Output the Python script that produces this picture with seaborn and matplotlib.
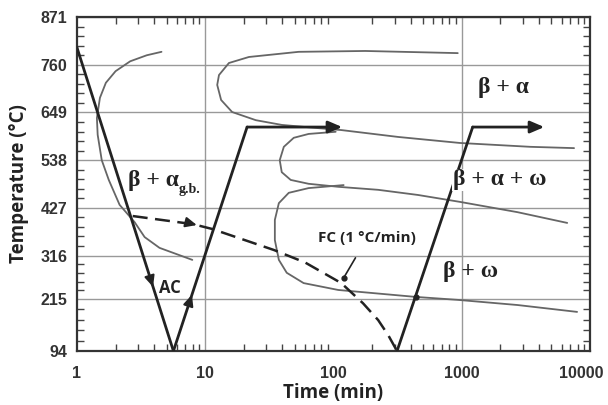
import numpy as np
import matplotlib
matplotlib.use("Agg")
import matplotlib.pyplot as plt
import matplotlib.transforms as mtransforms
from matplotlib.ticker import FixedLocator, LogLocator, NullFormatter
import seaborn as sns

# temperature tick labels (deg C)
temp_ticks = [94, 215, 316, 427, 538, 649, 760, 871]
time_ticks = [1, 10, 100, 1000, 10000]

# processing path (black lines)
ac_time = [1.0, 5.65]
ac_temp = [800, 94]
heat1_time = [5.65, 21.2, 117]
heat1_temp = [94, 615, 615]
heat2_time = [313, 1217, 4400]
heat2_temp = [94, 615, 615]
fc_time = [2.72, 8.07, 11.3, 34.3, 60, 115, 170, 223, 267, 313]
fc_temp = [408, 389, 378, 329, 300, 252, 205, 166, 131, 94]

# TTT C-curves (gray)
gb_time = [4.56, 3.5, 2.6, 2.0, 1.68, 1.51, 1.43, 1.45, 1.56, 1.77, 2.15, 2.81, 3.37, 4.40, 7.93]
gb_temp = [790, 782, 768, 745, 718, 683, 636, 597, 538, 492, 434, 394, 359, 334, 306]
alpha_time = [931, 177, 53.5, 21.9, 15.3, 12.8, 12.4, 13.3, 16.2, 24.8, 39.5, 72.5, 115, 319, 965, 3430, 7510]
alpha_temp = [787, 792, 790, 778, 764, 736, 713, 678, 650, 631, 620, 613, 608, 592, 578, 569, 566]
mid_time = [104, 64, 49, 41, 38.1, 39.5, 46.4, 64, 109, 223, 456, 965, 2720, 6640]
mid_temp = [604, 599, 590, 569, 538, 510, 492, 483, 476, 469, 457, 441, 417, 392]
omega_time = [120, 64, 44.8, 37.5, 34.9, 34.9, 37.5, 43.2, 58.5, 109, 432, 931, 2720, 7930]
omega_temp = [480, 473, 462, 438, 399, 352, 306, 276, 252, 236, 220, 213, 201, 185]

sns.set_theme(style="ticks")

fig = plt.figure(figsize=(6.08, 4.05), dpi=100)
ax = fig.add_axes([0.1266, 0.1333, 0.8438, 0.8247])

dark = "#222222"
gray = "#666666"

# C-curves
for t, T in [(gb_time, gb_temp), (alpha_time, alpha_temp),
             (mid_time, mid_temp), (omega_time, omega_temp)]:
    sns.lineplot(x=t, y=T, sort=False, estimator=None, color=gray,
                 linewidth=1.3, ax=ax, zorder=3)

# thermal path
sns.lineplot(x=ac_time, y=ac_temp, sort=False, estimator=None, color=dark,
             linewidth=2.0, ax=ax, zorder=4)
sns.lineplot(x=heat1_time[:-1], y=heat1_temp[:-1], sort=False, estimator=None,
             color=dark, linewidth=2.0, ax=ax, zorder=4)
sns.lineplot(x=heat2_time[:-1], y=heat2_temp[:-1], sort=False, estimator=None,
             color=dark, linewidth=2.0, ax=ax, zorder=4)
ax.plot(fc_time, fc_temp, color=dark, linewidth=1.8, dashes=(6, 3), zorder=4)

arrow = dict(arrowstyle="-|>,head_length=0.7,head_width=0.3", color=dark,
             lw=2.0, shrinkA=0, shrinkB=0)
ax.annotate("", xy=(heat1_time[2], heat1_temp[2]),
            xytext=(heat1_time[1], heat1_temp[1]), arrowprops=arrow, zorder=5)
ax.annotate("", xy=(heat2_time[2], heat2_temp[2]),
            xytext=(heat2_time[1], heat2_temp[1]), arrowprops=arrow, zorder=5)


def on_line(tt, TT, T):
    # time on a straight (log-time) segment at temperature T
    lt = np.log10(tt)
    order = np.argsort(TT)
    return 10 ** np.interp(T, np.array(TT)[order], lt[order])


small = dict(arrowstyle="-|>,head_length=0.55,head_width=0.25", color=dark,
             lw=1.5, shrinkA=0, shrinkB=0)
# direction markers along the path
ax.annotate("", xy=(on_line(ac_time, ac_temp, 243), 243),
            xytext=(on_line(ac_time, ac_temp, 265), 265), arrowprops=small, zorder=5)
ax.annotate("", xy=(on_line(heat1_time[:2], heat1_temp[:2], 225), 225),
            xytext=(on_line(heat1_time[:2], heat1_temp[:2], 205), 205),
            arrowprops=small, zorder=5)
ax.annotate("", xy=(8.6, 387), xytext=(7.4, 392), arrowprops=small, zorder=5)
ax.plot([440], [220], "o", color=dark, markersize=3.5, zorder=5)

ax.text(5.3, 241, "AC", fontsize=12, fontweight="bold", color=dark,
        ha="center", va="center", family="Open Sans", zorder=6)
ax.annotate("FC (1 °C/min)", xy=(120, 264), xytext=(183, 357),
            fontsize=11, fontweight="bold", color=dark, family="Open Sans",
            ha="center", va="center", zorder=6,
            arrowprops=dict(arrowstyle="-", color=dark, lw=1.2,
                            shrinkA=8, shrinkB=0))
ax.plot([120], [264], "o", color=dark, markersize=3.5, zorder=5)

greek = dict(fontsize=17, fontweight="bold", color=dark,
             family="Liberation Serif", ha="center", va="center", zorder=6)
ax.text(2117, 706, "β + α", **greek)
ax.text(1971, 492, "β + α + ω",
        bbox=dict(facecolor="white", edgecolor="none", pad=0.3), **greek)
ax.text(1175, 278, "β + ω", **greek)
ax.text(3.95, 490, "β + α", **greek)
ax.text(7.6, 470, "g.b.", fontsize=10, fontweight="bold", color=dark,
        family="Liberation Serif", ha="center", va="center", zorder=6)

ax.set_xscale("log")
ax.set_xlim(1, 10000)
ax.set_ylim(94, 871)
ax.set_xticks(time_ticks)
ax.set_xticklabels([str(v) for v in time_ticks])
ax.xaxis.set_minor_locator(LogLocator(base=10, subs=np.arange(2, 10)))
ax.xaxis.set_minor_formatter(NullFormatter())
ax.set_yticks(temp_ticks)
ax.set_yticklabels([str(v) for v in temp_ticks])
minor = []
for a, b in zip(temp_ticks[:-1], temp_ticks[1:]):
    minor.extend(np.linspace(a, b, 6)[1:-1])
ax.yaxis.set_minor_locator(FixedLocator(minor))

ax.tick_params(which="both", direction="in", top=True, right=True,
               color="#444444")
ax.tick_params(which="major", length=0)
ax.tick_params(which="minor", length=5, width=1)
ax.tick_params(axis="x", which="major", pad=11)
ax.tick_params(axis="y", which="major", pad=7)
for lab in ax.get_xticklabels() + ax.get_yticklabels():
    lab.set_fontfamily("Liberation Sans")
    lab.set_fontweight("bold")
    lab.set_fontsize(11.5)
    lab.set_color("#333333")
# keep the last time label inside the figure
last = ax.get_xticklabels()[-1]
last.set_transform(last.get_transform() +
                   mtransforms.ScaledTranslation(-6 / 72, 0, fig.dpi_scale_trans))

ax.yaxis.grid(True, color="#999999", linewidth=1.0)
for v in [10, 1000]:
    ax.axvline(v, color="#999999", linewidth=1.0, zorder=1)
ax.set_axisbelow(True)

for s in ax.spines.values():
    s.set_color("#333333")
    s.set_linewidth(1.6)

ax.set_xlabel("Time (min)", fontsize=13.5, fontweight="bold",
              family="Open Sans", color="#222222")
ax.set_ylabel("Temperature (°C)", fontsize=13.5, fontweight="bold",
              family="Open Sans", color="#222222")
ax.xaxis.set_label_coords(0.5, -0.095)
ax.yaxis.set_label_coords(-0.094, 0.5)

fig.savefig("out.png", dpi=100, facecolor="white")
